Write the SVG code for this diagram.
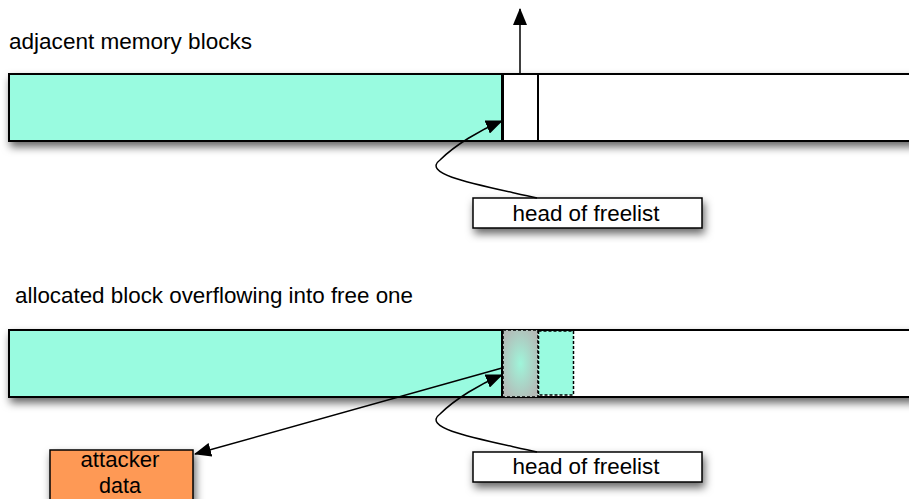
<svg xmlns="http://www.w3.org/2000/svg" width="909" height="499" viewBox="0 0 909 499">
  <defs>
    <filter id="shadow" x="-10%" y="-30%" width="120%" height="180%">
      <feDropShadow dx="2" dy="5" stdDeviation="4" flood-color="#000" flood-opacity="0.6"/>
    </filter>
    <radialGradient id="overflowFill" cx="0.5" cy="0.5" r="0.6">
      <stop offset="0" stop-color="#9ff5da"/>
      <stop offset="1" stop-color="#b4bab7"/>
    </radialGradient>
    <marker id="arrow" viewBox="0 0 17 14" refX="16" refY="7" markerWidth="17" markerHeight="14" markerUnits="userSpaceOnUse" orient="auto">
      <path d="M0,0 L17,7 L0,14 Z" fill="#000"/>
    </marker>
  </defs>
  <style>
    .lbl { font-family: "Liberation Sans", Arial, sans-serif; font-size: 21.5px; fill: #000; }
    .mid { text-anchor: middle; }
    .used { fill: #99fbe0; stroke: #000; stroke-width: 2; }
    .free { fill: #fff; stroke: #000; stroke-width: 2; }
    .dotted { stroke: #000; stroke-width: 1.5; stroke-dasharray: 3 2; }
    .box { fill: #fff; stroke: #000; stroke-width: 1.5; }
    .wire { fill: none; stroke: #000; stroke-width: 1.5; }
  </style>

  <rect width="909" height="499" fill="#fff"/>

  <text class="lbl" x="9" y="49" textLength="243" lengthAdjust="spacingAndGlyphs">adjacent memory blocks</text>
  <text class="lbl" x="15" y="303" textLength="398" lengthAdjust="spacingAndGlyphs">allocated block overflowing into free one</text>

  <!-- top: adjacent memory blocks -->
  <g id="top-blocks" filter="url(#shadow)">
    <rect class="free" x="538" y="74" width="380" height="67"/>
    <rect class="used" x="9" y="74" width="493" height="67"/>
    <rect class="free" x="503" y="74" width="35" height="67"/>
  </g>

  <g id="top-freelist" filter="url(#shadow)">
    <rect class="box" x="473" y="198" width="229" height="30"/>
  </g>
  <text class="lbl mid" x="586" y="221" textLength="147" lengthAdjust="spacingAndGlyphs">head of freelist</text>

  <!-- bottom: overflowed blocks -->
  <g id="bottom-blocks" filter="url(#shadow)">
    <rect class="free" x="503" y="330" width="415" height="67"/>
    <rect class="used" x="9" y="330" width="493" height="67"/>
  </g>
  <g id="overflow-header">
    <rect x="503" y="330" width="35" height="67" fill="url(#overflowFill)" class="dotted"/>
  </g>
  <g id="overflow-body">
    <rect x="538.5" y="331" width="35" height="64" fill="#99fbe0" class="dotted"/>
  </g>

  <g id="bottom-freelist" filter="url(#shadow)">
    <rect class="box" x="473" y="452" width="229" height="30"/>
  </g>
  <text class="lbl mid" x="586" y="474" textLength="147" lengthAdjust="spacingAndGlyphs">head of freelist</text>

  <g id="attacker" filter="url(#shadow)">
    <rect x="50" y="450" width="143" height="60" fill="#fe9955" stroke="#000" stroke-width="1.5"/>
  </g>
  <text class="lbl mid" x="120" y="467" textLength="79" lengthAdjust="spacingAndGlyphs">attacker</text>
  <text class="lbl mid" x="120" y="493">data</text>

  <!-- connectors -->
  <g id="connectors">
    <path class="wire" d="M520,74 L520,9" marker-end="url(#arrow)"/>
    <path class="wire" d="M537,198 C480,185 420,175 440,160 C455,145 480,130 502,121" marker-end="url(#arrow)"/>
    <path class="wire" d="M537,452 C480,439 420,429 440,414 C455,399 480,384 502,375" marker-end="url(#arrow)"/>
    <path class="wire" d="M502,368 L195,454" marker-end="url(#arrow)"/>
  </g>
</svg>
